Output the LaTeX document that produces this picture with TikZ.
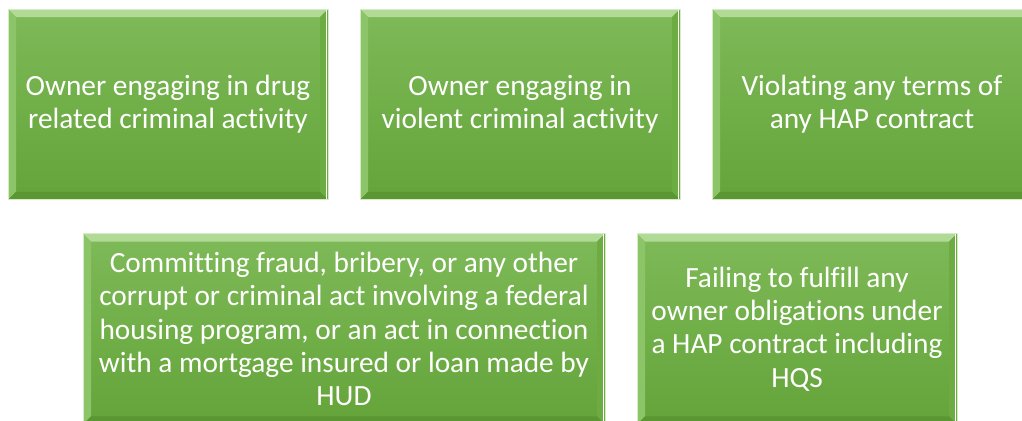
\documentclass[tikz,border=0pt]{standalone}
\usepackage{fontspec}
\setmainfont[Ligatures=NoCommon]{Carlito}
\usepackage{tikz}

\definecolor{boxtop}{RGB}{126,186,88}
\definecolor{boxbot}{RGB}{100,164,58}
\definecolor{bevlight}{RGB}{176,218,150}
\definecolor{bevleft}{RGB}{140,196,104}
\definecolor{bevright}{RGB}{108,172,66}
\definecolor{bevdark}{RGB}{90,150,50}
\definecolor{rimcol}{RGB}{214,236,198}

\tikzset{
  hapbox/.style={rectangle, inner sep=0pt, minimum height=143pt,
    top color=boxtop, bottom color=boxbot, draw=rimcol, line width=0.6pt,
    text=white, align=center, font=\fontsize{22}{25}\selectfont,
    path picture={
      \fill[bevlight] (path picture bounding box.north west) -- (path picture bounding box.north east)
        -- ([shift={(-6pt,-6pt)}]path picture bounding box.north east) -- ([shift={(6pt,-6pt)}]path picture bounding box.north west) -- cycle;
      \fill[bevleft] (path picture bounding box.north west) -- (path picture bounding box.south west)
        -- ([shift={(6pt,6pt)}]path picture bounding box.south west) -- ([shift={(6pt,-6pt)}]path picture bounding box.north west) -- cycle;
      \fill[bevright] (path picture bounding box.north east) -- (path picture bounding box.south east)
        -- ([shift={(-6pt,6pt)}]path picture bounding box.south east) -- ([shift={(-6pt,-6pt)}]path picture bounding box.north east) -- cycle;
      \fill[bevdark] (path picture bounding box.south west) -- (path picture bounding box.south east)
        -- ([shift={(-6pt,6pt)}]path picture bounding box.south east) -- ([shift={(6pt,6pt)}]path picture bounding box.south west) -- cycle;
      \draw[white, line width=0.8pt] ([xshift=-1pt]path picture bounding box.north east) -- ([xshift=-1pt]path picture bounding box.south east);
    }},
  narrowbox/.style={hapbox, minimum width=240pt},
  widebox/.style={hapbox, minimum width=391.5pt}
}

\begin{document}
\begin{tikzpicture}[x=0.75pt,y=-0.75pt]
\useasboundingbox (0,0) rectangle (1022,421);
\clip (0,0) rectangle (1022,421);
% top row
\node[narrowbox] (drug) at (168,104.5) {Owner engaging in drug\\related criminal activity};
\node[narrowbox] (violent) at (520,104.5) {Owner engaging in\\violent criminal activity};
\node[narrowbox] (terms) at (872,104.5) {Violating any terms of\\any HAP contract};
% bottom row
\node[widebox] (fraud) at (344,329) {Committing fraud, bribery, or any other\\corrupt or criminal act involving a federal\\housing program, or an act in connection\\with a mortgage insured or loan made by\\HUD};
\node[narrowbox] (hqs) at (797,329) {Failing to fulfill any\\owner obligations under\\a HAP contract including\\HQS};
\end{tikzpicture}
\end{document}
